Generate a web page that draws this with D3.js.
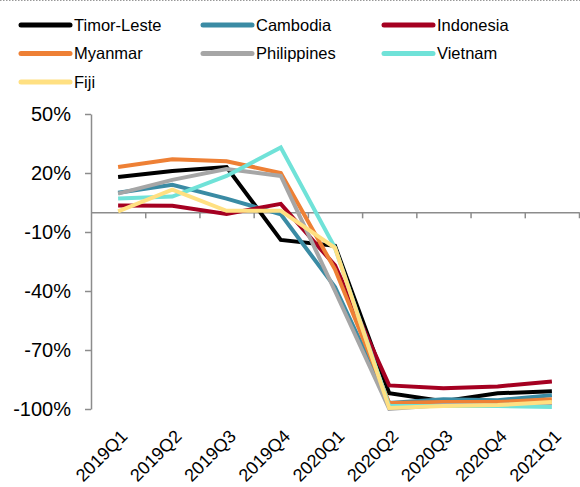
<!DOCTYPE html>
<html>
<head>
<meta charset="utf-8">
<script src="https://cdn.jsdelivr.net/npm/d3@7"></script>
<style>
    body { margin: 0; background: #fff; }
    svg { display: block; font-family: "Liberation Sans", Arial, sans-serif; }
    .axis path, .axis line { stroke: #8c8c8c; stroke-width: 1.5; }
    .axis text { font-size: 20px; fill: #000; }
</style>
</head>
<body>
<div id="chart"></div>
<script>
const quarters = ["2019Q1", "2019Q2", "2019Q3", "2019Q4", "2020Q1", "2020Q2", "2020Q3", "2020Q4", "2021Q1"];
const timorLeste = [18, 21, 23, -14, -17, -92, -96, -92, -91];
const cambodia = [10, 14, 7, -1, -38, -97, -95, -95.5, -93];
const indonesia = [3.5, 3.3, -0.8, 4.3, -27, -88, -89.5, -88.5, -86];
const myanmar = [23, 27, 26, 20, -29, -97, -96.5, -96.5, -95];
const philippines = [9.5, 16.5, 22, 18.5, -40, -100, -98, -98, -97];
const vietnam = [7, 8, 18.5, 33, -18, -98.5, -98.5, -98.5, -99];
const fiji = [0.5, 11.5, 0.8, 0.8, -18, -99.5, -98.5, -98, -96.5];
const yTicks = [50, 20, -10, -40, -70, -100];

const series = [
    {name: "Timor-Leste", values: timorLeste, color: "#000000"},
    {name: "Cambodia", values: cambodia, color: "#3a8ba4"},
    {name: "Indonesia", values: indonesia, color: "#a50021"},
    {name: "Myanmar", values: myanmar, color: "#ee8035"},
    {name: "Philippines", values: philippines, color: "#a6a6a6"},
    {name: "Vietnam", values: vietnam, color: "#70e2d8"},
    {name: "Fiji", values: fiji, color: "#ffe082"}
];

const width = 580, height = 487;
const svg = d3.select("#chart").append("svg")
    .attr("width", width)
    .attr("height", height);

// dotted frame line at the very top
svg.append("line")
    .attr("x1", 0).attr("x2", width)
    .attr("y1", 0.5).attr("y2", 0.5)
    .attr("stroke", "#999")
    .attr("stroke-dasharray", "1.5,1.5");

const x = d3.scaleBand().domain(quarters).range([91, 579]);
const xEdges = d3.scaleLinear().domain([0, quarters.length]).range([91, 579]);
const y = d3.scaleLinear().domain([-100, 50]).range([409, 114]);

// y axis
svg.append("g")
    .attr("class", "axis")
    .attr("transform", "translate(91,0)")
    .call(d3.axisLeft(y).tickValues(yTicks).tickSize(6).tickSizeOuter(0).tickPadding(14)
        .tickFormat(d => d + "%"));

// x axis through zero
svg.append("g")
    .attr("class", "axis")
    .attr("transform", `translate(0,${y(0)})`)
    .call(d3.axisBottom(xEdges).tickValues(d3.range(1, quarters.length + 1)).tickSize(6).tickSizeOuter(0).tickFormat(""));

// rotated category labels along the bottom
svg.append("g").selectAll("text")
    .data(quarters)
    .enter().append("text")
    .attr("transform", d => `translate(${x(d) + x.bandwidth() / 2 + 6},${y(-100) + 24}) rotate(-45)`)
    .attr("text-anchor", "end")
    .attr("dy", "0.35em")
    .style("font-size", "18px")
    .text(d => d);

const line = d3.line()
    .x((d, i) => x(quarters[i]) + x.bandwidth() / 2)
    .y(d => y(d));

svg.append("g").selectAll("path")
    .data(series)
    .enter().append("path")
    .attr("d", d => line(d.values))
    .attr("fill", "none")
    .attr("stroke", d => d.color)
    .attr("stroke-width", 4)
    .attr("stroke-linejoin", "miter");

// legend, three columns
const legend = svg.append("g").selectAll("g")
    .data(series)
    .enter().append("g")
    .attr("transform", (d, i) => `translate(${[21, 203, 384][i % 3]},${25 + Math.floor(i / 3) * 28.5})`);

legend.append("line")
    .attr("x1", 0).attr("x2", 49)
    .attr("stroke", d => d.color)
    .attr("stroke-width", 5)
    .attr("stroke-linecap", "round");

legend.append("text")
    .attr("x", 53)
    .attr("dy", "0.35em")
    .style("font-size", "16.5px")
    .text(d => d.name);
</script>
</body>
</html>
